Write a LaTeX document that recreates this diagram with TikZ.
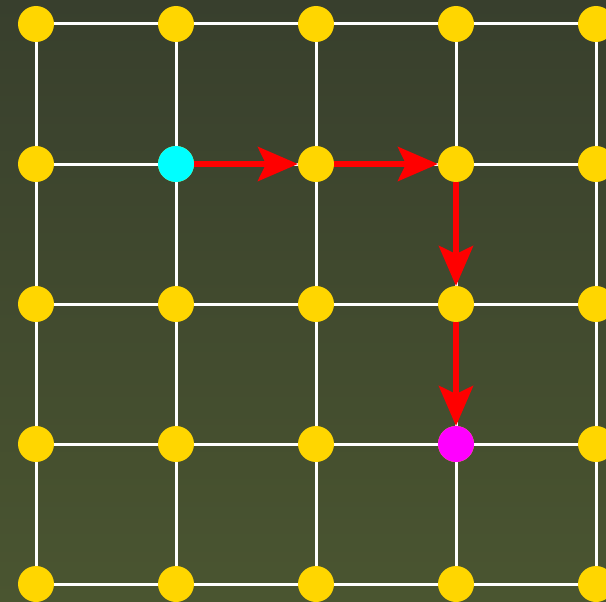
\documentclass[tikz,border=0pt]{standalone}
\usetikzlibrary{arrows.meta}
\definecolor{bgtop}{RGB}{56,63,45}
\definecolor{bgbot}{RGB}{74,85,48}
\definecolor{gold}{RGB}{255,214,0}
\definecolor{startc}{RGB}{0,255,255}
\definecolor{endc}{RGB}{255,0,255}
\definecolor{arrowred}{RGB}{255,0,0}
\begin{document}
\begin{tikzpicture}[x=1pt,y=-1pt,
  gridline/.style={draw=white,line width=3pt},
  dot/.style={circle,fill=gold,minimum size=36pt,inner sep=0pt,outer sep=0pt},
  pathedge/.style={draw=arrowred,line width=6pt,-{Stealth[length=40pt,width=34pt,inset=8pt]}}]
\useasboundingbox (0,0) rectangle (606,602);
\shade[top color=bgtop,bottom color=bgbot] (0,0) rectangle (606,602);
\clip (0,0) rectangle (606,602);
\foreach \i in {0,...,4}{
  \draw[gridline] (36,24+140*\i) -- (616,24+140*\i);
  \draw[gridline] (36+140*\i,24) -- (36+140*\i,584);
}
\foreach \c in {0,...,4}{
  \foreach \r in {0,...,4}{
    \node[dot] (n\c\r) at (36+140*\c,24+140*\r) {};
  }
}
\node[dot,fill=startc] (n11) at (176,164) {};
\node[dot,fill=endc] (n33) at (456,444) {};
\draw[pathedge] (n11) -- (n21);
\draw[pathedge] (n21) -- (n31);
\draw[pathedge] (n31) -- (n32);
\draw[pathedge] (n32) -- (n33);
\end{tikzpicture}
\end{document}
